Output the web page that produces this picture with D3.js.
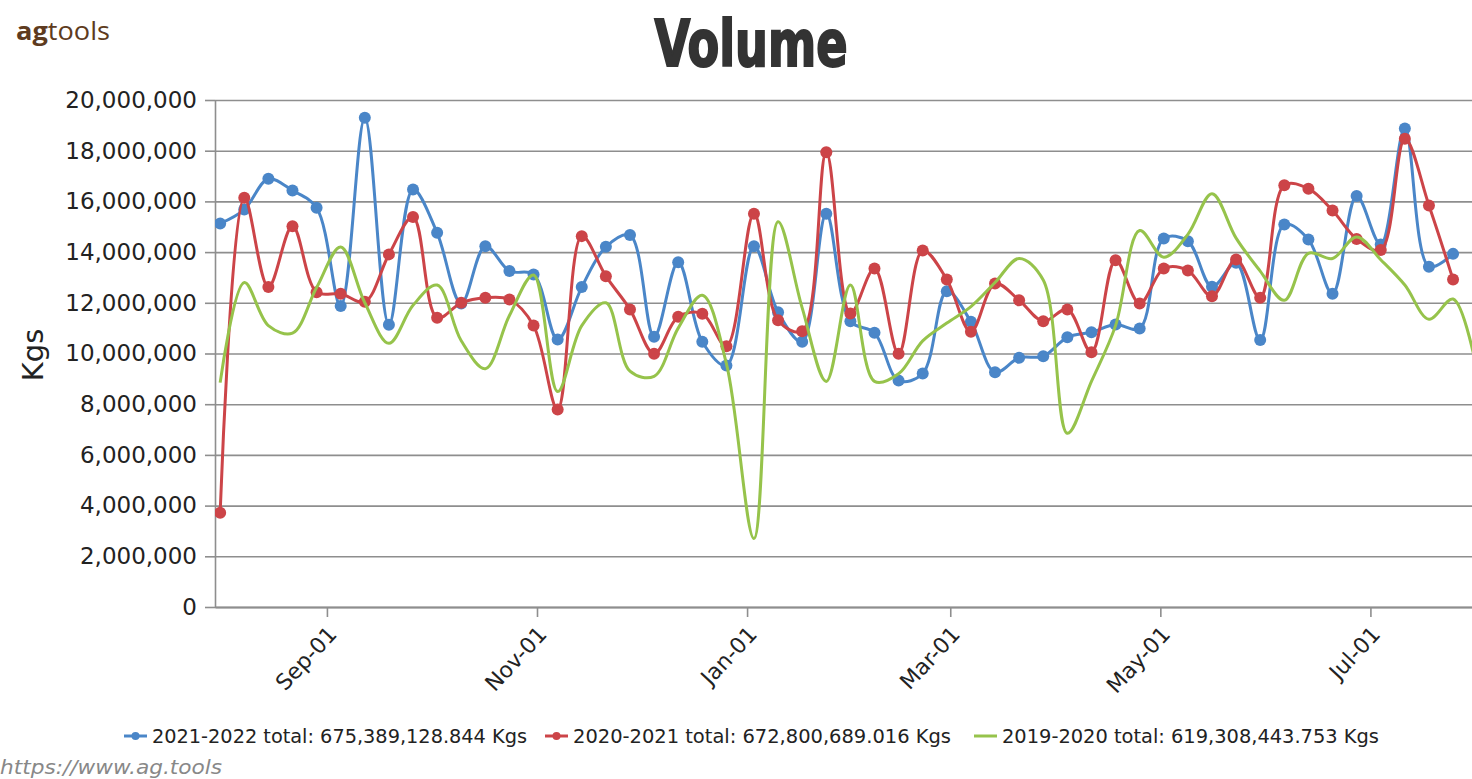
<!DOCTYPE html>
<html>
<head>
<meta charset="utf-8">
<script src="https://cdn.jsdelivr.net/npm/d3@7"></script>
<style>
  body { margin: 0; background: #fff; }
  svg { display: block; }
</style>
</head>
<body>
<svg id="chart"></svg>
<script>
// weekly dates (values in million kgs)
const weeks = [
  "2021-08-01","2021-08-08","2021-08-15","2021-08-22","2021-08-29","2021-09-05","2021-09-12",
  "2021-09-19","2021-09-26","2021-10-03","2021-10-10","2021-10-17","2021-10-24","2021-10-31",
  "2021-11-07","2021-11-14","2021-11-21","2021-11-28","2021-12-05","2021-12-12","2021-12-19",
  "2021-12-26","2022-01-03","2022-01-10","2022-01-17","2022-01-24","2022-01-31","2022-02-07",
  "2022-02-14","2022-02-21","2022-02-28","2022-03-07","2022-03-14","2022-03-21","2022-03-28",
  "2022-04-04","2022-04-11","2022-04-18","2022-04-25","2022-05-02","2022-05-09","2022-05-16",
  "2022-05-23","2022-05-30","2022-06-06","2022-06-13","2022-06-20","2022-06-27","2022-07-04",
  "2022-07-11","2022-07-18","2022-07-25","2022-08-01"
];

const vol2122 = [15.13, 15.68, 16.89, 16.43, 15.75, 11.87, 19.30, 11.13, 16.47, 14.76, 11.97, 14.23, 13.25,
  13.12, 10.55, 12.62, 14.21, 14.67, 10.66, 13.60, 10.46, 9.53, 14.23, 11.63, 10.46, 15.51, 11.27,
  10.82, 8.93, 9.21, 12.46, 11.25, 9.26, 9.83, 9.89, 10.64, 10.84, 11.14, 10.99, 14.54, 14.43, 12.63,
  13.58, 10.53, 15.09, 14.50, 12.36, 16.21, 14.30, 18.88, 13.42, 13.93];

const vol2021 = [3.72, 16.14, 12.62, 15.02, 12.42, 12.36, 12.04, 13.91, 15.38, 11.41, 12.00, 12.20, 12.13,
  11.10, 7.79, 14.63, 13.05, 11.74, 9.99, 11.45, 11.57, 10.29, 15.51, 11.31, 10.88, 17.94, 11.58,
  13.35, 9.99, 14.06, 12.92, 10.86, 12.76, 12.10, 11.27, 11.74, 10.05, 13.68, 11.97, 13.35, 13.27,
  12.26, 13.71, 12.20, 16.64, 16.50, 15.64, 14.52, 14.08, 18.47, 15.84, 12.92];

const vol1920 = [8.85, 12.8, 11.1, 10.8, 12.6, 14.2, 12.0, 10.4, 11.9, 12.7, 10.5, 9.4, 11.5, 13.1, 8.5,
  11.1, 12.0, 9.3, 9.1, 11.0, 12.3, 9.6, 2.7, 15.2, 11.8, 8.9, 12.7, 8.9, 9.2, 10.5, 11.2, 11.85,
  12.8, 13.75, 12.9, 6.85, 8.9, 11.1, 14.85, 13.8, 14.7, 16.3, 14.55, 13.25, 12.1, 13.95, 13.75,
  14.6, 13.7, 12.7, 11.35, 12.15, 9.3];

const seriesNames = ["2021-2022 total: 675,389,128.844 Kgs",
                     "2020-2021 total: 672,800,689.016 Kgs",
                     "2019-2020 total: 619,308,443.753 Kgs"];
const seriesColors = ["#4a86c8", "#cc4448", "#96c34b"];

const yTicks = [0, 2, 4, 6, 8, 10, 12, 14, 16, 18, 20];
const xTicks = ["2021-09-01", "2021-11-01", "2022-01-01", "2022-03-01", "2022-05-01", "2022-07-01"];
const xDomain = ["2021-07-30 12", "2022-07-30 12"];

const parse = d3.timeParse("%Y-%m-%d");
const parseH = d3.timeParse("%Y-%m-%d %H");

const W = 1472, H = 779;
const plotLeft = 215, plotTop = 100, plotBottom = 607;
const plotW = W - plotLeft, plotH = plotBottom - plotTop;

const svg = d3.select("#chart").attr("width", W).attr("height", H);

// logo + title
const logo = svg.append("text")
    .attr("x", 16).attr("y", 40)
    .attr("font-family", "'Open Sans', sans-serif")
    .attr("font-size", 25)
    .attr("fill", "#5e3b20")
    .attr("textLength", 94).attr("lengthAdjust", "spacingAndGlyphs");
logo.append("tspan").attr("font-weight", "bold").text("ag");
logo.append("tspan").text("tools");

svg.append("text")
    .attr("x", 751).attr("y", 66)
    .attr("text-anchor", "middle")
    .attr("font-family", "'Liberation Sans Narrow', 'DejaVu Sans Condensed', sans-serif")
    .attr("font-weight", "bold")
    .attr("font-size", 64)
    .attr("fill", "#333")
    .attr("stroke", "#333").attr("stroke-width", 2)
    .attr("textLength", 193).attr("lengthAdjust", "spacingAndGlyphs")
    .text("Volume");

const g = svg.append("g").attr("transform", "translate(" + plotLeft + "," + plotTop + ")");

const x = d3.scaleTime().domain(xDomain.map(parseH)).range([0, plotW]);
const y = d3.scaleLinear().domain([0, 20]).range([plotH, 0]);

// grid
g.append("g")
    .call(d3.axisLeft(y).tickValues(yTicks).tickSize(-plotW).tickFormat(""))
    .call(a => a.select(".domain").remove())
    .selectAll(".tick line").attr("stroke", "#8e8e8e").attr("stroke-width", 1.6);

// y axis
const yAxis = g.append("g")
    .call(d3.axisLeft(y).tickValues(yTicks).tickSize(10).tickSizeOuter(0).tickPadding(8)
        .tickFormat(d => d3.format(",")(d * 1e6)));
yAxis.select(".domain").attr("stroke", "#8e8e8e").attr("stroke-width", 1.6);
yAxis.selectAll(".tick line").attr("stroke", "#8e8e8e").attr("stroke-width", 1.6);
yAxis.selectAll("text")
    .attr("font-family", "'DejaVu Sans', sans-serif")
    .attr("font-size", 23)
    .attr("fill", "#222");

svg.append("text")
    .attr("transform", "translate(43,355) rotate(-90)")
    .attr("text-anchor", "middle")
    .attr("font-family", "'DejaVu Sans', sans-serif")
    .attr("font-size", 29)
    .attr("fill", "#222")
    .text("Kgs");

// x axis
const xAxis = g.append("g")
    .attr("transform", "translate(0," + plotH + ")")
    .call(d3.axisBottom(x).tickValues(xTicks.map(parse)).tickSize(10).tickSizeOuter(0)
        .tickFormat(d3.timeFormat("%b-%d")));
xAxis.select(".domain").attr("stroke", "#8e8e8e").attr("stroke-width", 2.2);
xAxis.selectAll(".tick line").attr("stroke", "#8e8e8e").attr("stroke-width", 1.6);
xAxis.selectAll("text")
    .attr("font-family", "'DejaVu Sans', sans-serif")
    .attr("font-size", 22)
    .attr("fill", "#222")
    .attr("text-anchor", "end")
    .attr("x", 0).attr("y", 0).attr("dy", "0.35em")
    .attr("transform", "translate(5,23) rotate(-47)");

// series
svg.append("defs").append("clipPath").attr("id", "plot")
    .append("rect").attr("x", 0).attr("y", -10).attr("width", plotW).attr("height", plotH + 20);

const dates = weeks.map(parse);
const allSeries = [vol2122, vol2021, vol1920].map((vals, i) => ({
    name: seriesNames[i],
    color: seriesColors[i],
    markers: i < 2,
    points: vals.map((v, j) => ({ date: dates[j], value: v }))
}));

const line = d3.line()
    .x(d => x(d.date))
    .y(d => y(d.value))
    .curve(d3.curveCatmullRom.alpha(0.5));

const plot = g.append("g").attr("clip-path", "url(#plot)");

allSeries.forEach(s => {
    plot.append("path")
        .datum(s.points)
        .attr("fill", "none")
        .attr("stroke", s.color)
        .attr("stroke-width", 3)
        .attr("stroke-linejoin", "round")
        .attr("d", line);
    if (s.markers) {
        plot.selectAll(null)
            .data(s.points)
            .enter().append("circle")
            .attr("cx", d => x(d.date))
            .attr("cy", d => y(d.value))
            .attr("r", 6)
            .attr("fill", s.color);
    }
});

// legend
const legendX = [124, 545, 974];
const legendW = [375, 378, 377];
const legend = svg.append("g").attr("transform", "translate(0,736)");
allSeries.forEach((s, i) => {
    const it = legend.append("g").attr("transform", "translate(" + legendX[i] + ",0)");
    it.append("line").attr("x1", 0).attr("x2", 23).attr("y1", 0).attr("y2", 0)
        .attr("stroke", s.color).attr("stroke-width", 3);
    if (s.markers) it.append("circle").attr("cx", 11.5).attr("cy", 0).attr("r", 4).attr("fill", s.color);
    it.append("text")
        .attr("x", 28).attr("y", 0).attr("dy", "0.35em")
        .attr("font-family", "'DejaVu Sans Condensed', sans-serif")
        .attr("font-size", 20)
        .attr("fill", "#222")
        .attr("textLength", legendW[i]).attr("lengthAdjust", "spacingAndGlyphs")
        .text(s.name);
});

svg.append("text")
    .attr("x", 0).attr("y", 774)
    .attr("font-family", "'DejaVu Sans Condensed', sans-serif")
    .attr("font-style", "italic")
    .attr("font-size", 19)
    .attr("fill", "#888")
    .attr("textLength", 222).attr("lengthAdjust", "spacingAndGlyphs")
    .text("https://www.ag.tools");
</script>
</body>
</html>
